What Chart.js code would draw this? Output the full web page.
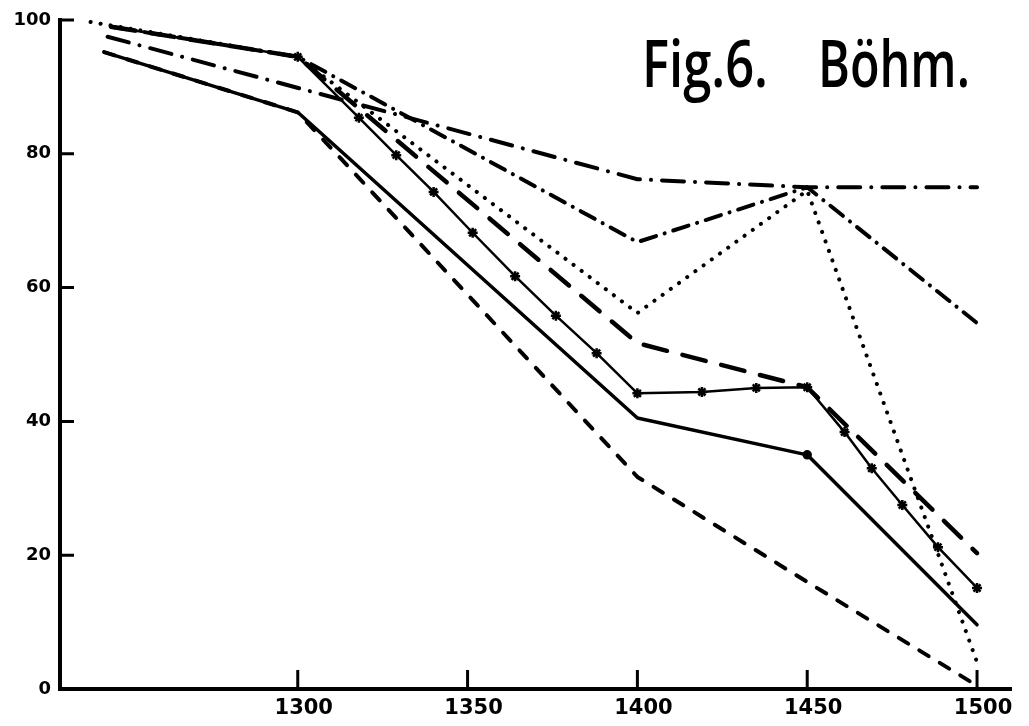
<!DOCTYPE html>
<html>
<head>
<meta charset="utf-8">
<title>Fig. 6 Böhm</title>
<script src="https://cdn.jsdelivr.net/npm/chart.js@4.4.0/dist/chart.umd.min.js"></script>
<style>
  html, body { margin: 0; padding: 0; background: #fff; }
  #wrap { width: 1029px; height: 726px; }
</style>
</head>
<body>
<div id="wrap"><canvas id="fig6" width="1029" height="726"></canvas></div>
<script>
// axis ticks
const xTicks = [1300, 1350, 1400, 1450, 1500];
const yTicks = [0, 20, 40, 60, 80, 100];

// plain solid line
const solidYears  = [1243, 1300, 1400, 1450, 1500];
const solidValues = [95.2, 86.2, 40.5, 35.0, 9.6];

// short dashes
const dashYears  = [1243, 1300, 1400, 1450, 1500];
const dashValues = [95.2, 86.2, 31.7, 16.0, 0.5];

// solid line with star marks
const starYears  = [1245, 1300, 1318, 1329, 1340, 1351.5, 1364, 1376, 1388, 1400,
                    1419, 1435, 1450, 1461, 1469, 1478, 1488.5, 1500];
const starValues = [99, 94.5, 85.4, 79.8, 74.3, 68.2, 61.7, 55.8, 50.2, 44.2,
                    44.4, 45.0, 45.1, 38.4, 33.0, 27.5, 21.2, 15.1];

// long dashes
const longDashYears  = [1245, 1300, 1400, 1450, 1500];
const longDashValues = [99, 94.5, 51.7, 45.1, 20.3];

// dotted
const dotYears  = [1239, 1300, 1400, 1450, 1500];
const dotValues = [99.7, 94.5, 56.2, 74.5, 4];

// dash-dot, falling back at the end
const dashDotYears  = [1245, 1300, 1400, 1450, 1500];
const dashDotValues = [99, 94.5, 66.8, 75, 54.7];

// dash-dot, flat at the end
const flatYears  = [1244, 1400, 1450, 1500];
const flatValues = [97.5, 76.2, 75, 75];

function toPoints(years, values) {
  return years.map((yr, i) => ({ x: yr, y: values[i] }));
}

function lineSet(label, years, values, extra) {
  return Object.assign({
    label: label,
    data: toPoints(years, values),
    borderColor: '#000',
    backgroundColor: '#000',
    borderWidth: 4,
    borderCapStyle: 'round',
    borderJoinStyle: 'round',
    pointRadius: 0,
    tension: 0,
    fill: false
  }, extra);
}

// small ticks drawn on the inside of both axes
const innerTicks = {
  id: 'innerTicks',
  afterDatasetsDraw(chart) {
    const { ctx, scales: { x, y } } = chart;
    ctx.save();
    ctx.strokeStyle = '#000';
    ctx.lineWidth = 3;
    ctx.beginPath();
    x.ticks.forEach(t => {
      const px = x.getPixelForValue(t.value);
      ctx.moveTo(px, y.bottom);
      ctx.lineTo(px, y.bottom - 19);
    });
    y.ticks.forEach(t => {
      if (t.value === 0) return;
      const py = y.getPixelForValue(t.value);
      ctx.moveTo(x.left, py);
      ctx.lineTo(x.left + 14, py);
    });
    ctx.stroke();
    ctx.restore();
  }
};

// heading in the upper right corner of the plot
const figTitle = {
  id: 'figTitle',
  afterDraw(chart) {
    const { ctx, chartArea: a } = chart;
    const w = a.right - a.left;
    ctx.save();
    ctx.fillStyle = '#000';
    ctx.font = '600 65px "Open Sans", "DejaVu Sans"';
    ctx.textBaseline = 'alphabetic';
    ctx.fillText('Fig.6.', a.left + w * 0.612, a.top + 67, 126);
    ctx.fillText('Böhm.', a.left + w * 0.797, a.top + 67, 152);
    ctx.restore();
  }
};

const tickFont = { family: '"DejaVu Sans"', weight: 'bold' };

new Chart(document.getElementById('fig6').getContext('2d'), {
  type: 'line',
  data: {
    datasets: [
      lineSet('solid', solidYears, solidValues, {
        borderWidth: 3.5,
        pointRadius: solidYears.map(yr => yr === 1450 ? 3 : 0)
      }),
      lineSet('dashed', dashYears, dashValues, { borderDash: [11, 13] }),
      lineSet('stars', starYears, starValues, {
        borderWidth: 2.5,
        pointStyle: 'star',
        pointRadius: starYears.map((yr, i) => i === 0 ? 0 : 5),
        pointBorderWidth: 2.5
      }),
      lineSet('long dashes', longDashYears, longDashValues, { borderWidth: 4.5, borderDash: [24, 16] }),
      lineSet('dotted', dotYears, dotValues, { borderDash: [0.1, 10] }),
      lineSet('dash-dot', dashDotYears, dashDotValues, { borderDash: [16, 9, 0.1, 9] }),
      lineSet('dash-dot flat', flatYears, flatValues, { borderDash: [22, 11, 0.1, 11] })
    ]
  },
  options: {
    responsive: false,
    animation: false,
    devicePixelRatio: 1,
    layout: { padding: { top: 20, right: 18, left: 0, bottom: 0 } },
    plugins: {
      legend: { display: false },
      tooltip: { enabled: false }
    },
    scales: {
      x: {
        type: 'linear',
        min: 1230,
        max: 1510,
        afterBuildTicks: s => { s.ticks = xTicks.map(v => ({ value: v })); },
        afterFit: s => { s.height = 37; },
        grid: { display: false, drawTicks: false },
        border: { display: true, color: '#000', width: 4 },
        ticks: {
          color: '#000',
          font: Object.assign({ size: 21 }, tickFont),
          padding: 7,
          labelOffset: 6,
          maxRotation: 0,
          callback: v => String(v)
        }
      },
      y: {
        min: 0,
        max: 100,
        afterBuildTicks: s => { s.ticks = yTicks.map(v => ({ value: v })); },
        afterFit: s => { s.width = 60; },
        grid: { display: false, drawTicks: false },
        border: { display: true, color: '#000', width: 4 },
        ticks: {
          color: '#000',
          font: Object.assign({ size: 18 }, tickFont),
          padding: 9,
          callback: v => String(v)
        }
      }
    }
  },
  plugins: [innerTicks, figTitle]
});
</script>
</body>
</html>
